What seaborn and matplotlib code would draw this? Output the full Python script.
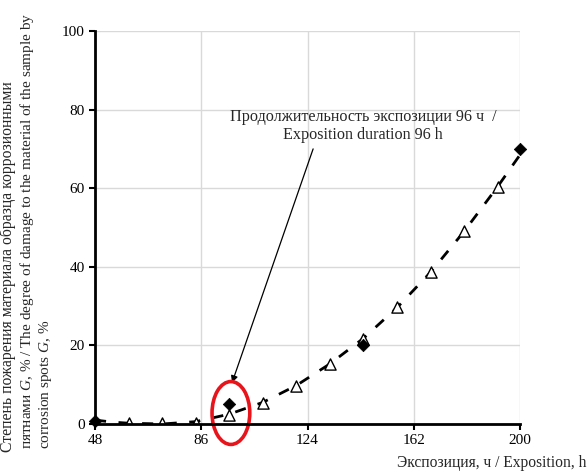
import pandas as pd
import matplotlib.pyplot as plt
import seaborn as sns
from matplotlib.patches import Ellipse

# measured points (triangles) and control points (diamonds)
hours = [48, 60, 72, 84, 96, 108, 120, 132, 144, 156, 168, 180, 192]
damage = [0.3, 0.3, 0.3, 0.3, 2.4, 5.3, 9.7, 15.3, 21.6, 29.8, 38.7, 49.1, 60.3]

ctrl_hours = [48, 96, 144, 200]
ctrl_damage = [0.7, 5.0, 20.0, 70.0]

# dashed trend line
trend_hours = [48, 54, 60, 72, 84, 96, 108, 120, 132, 144, 156, 168, 180, 192, 200]
trend_damage = [1.0, 0.5, 0.2, 0.0, 0.6, 2.5, 5.5, 9.8, 15.3, 21.8, 29.6, 38.6, 49.0, 60.4, 68.5]

x_ticks = [48, 86, 124, 162, 200]
y_ticks = [0, 20, 40, 60, 80, 100]

sns.set_style("whitegrid")
plt.rcParams['font.family'] = ['Liberation Serif', 'DejaVu Serif']
plt.rcParams['mathtext.fontset'] = 'custom'
plt.rcParams['mathtext.it'] = 'Liberation Serif:italic'
plt.rcParams['mathtext.rm'] = 'Liberation Serif'

fig = plt.figure(figsize=(5.88, 4.73), dpi=100)
ax = fig.add_axes([0.1616, 0.1036, 0.7228, 0.8309])

df_trend = pd.DataFrame({'h': trend_hours, 'g': trend_damage})
sns.lineplot(data=df_trend, x='h', y='g', ax=ax, color='black', lw=2,
             linestyle=(0, (4, 4.5)), zorder=2)

df = pd.DataFrame({'h': hours, 'g': damage})
sns.scatterplot(data=df, x='h', y='g', ax=ax, marker='^', s=65,
                facecolor='white', edgecolor='black', linewidth=1, zorder=3)

df_c = pd.DataFrame({'h': ctrl_hours, 'g': ctrl_damage})
sns.scatterplot(data=df_c, x='h', y='g', ax=ax, marker='D', s=40,
                color='black', edgecolor='black', zorder=4, clip_on=False)

ax.add_patch(Ellipse((96.6, 2.8), 13.5, 16, fill=False, edgecolor='#e8141b',
                     lw=2.6, zorder=5, clip_on=False))

ax.annotate('Продолжительность экспозиции 96 ч  /\nExposition duration 96 h',
            xy=(97, 10.5), xytext=(143.9, 75.8), ha='center', va='center',
            fontsize=11.6, linespacing=1.15,
            arrowprops=dict(arrowstyle='-|>', color='black', lw=0.9,
                            shrinkA=2, shrinkB=0, mutation_scale=10,
                            relpos=(0.32, 0)))

ax.set_xlim(48, 200)
ax.set_ylim(0, 100)
ax.set_xticks(x_ticks)
ax.set_yticks(y_ticks)
ax.tick_params(labelsize=11, length=4, width=1.5, colors='black', direction='out',
               bottom=True, left=True)
ax.set_xlabel('')
ax.set_ylabel('')
ax.grid(True, color='#d9d9d9', lw=1)
for side in ['top', 'right']:
    ax.spines[side].set_visible(False)
for side in ['left', 'bottom']:
    ax.spines[side].set_color('black')
    ax.spines[side].set_linewidth(2)
    ax.spines[side].set_zorder(6)

fig.text(0.998, 0.022, 'Экспозиция, ч / Exposition, h', ha='right', va='center', fontsize=11.2)

fig.text(0.014, 0.044, 'Степень пожарения материала образца коррозионными',
         rotation=90, ha='center', va='bottom', fontsize=11.3)
fig.text(0.046, 0.05, 'пятнами $G$, % / The degree of damage to the material of the sample by',
         rotation=90, ha='center', va='bottom', fontsize=11.0)
fig.text(0.078, 0.05, 'corrosion spots $G$, %',
         rotation=90, ha='center', va='bottom', fontsize=11.0)

fig.savefig('out.png', dpi=100)
